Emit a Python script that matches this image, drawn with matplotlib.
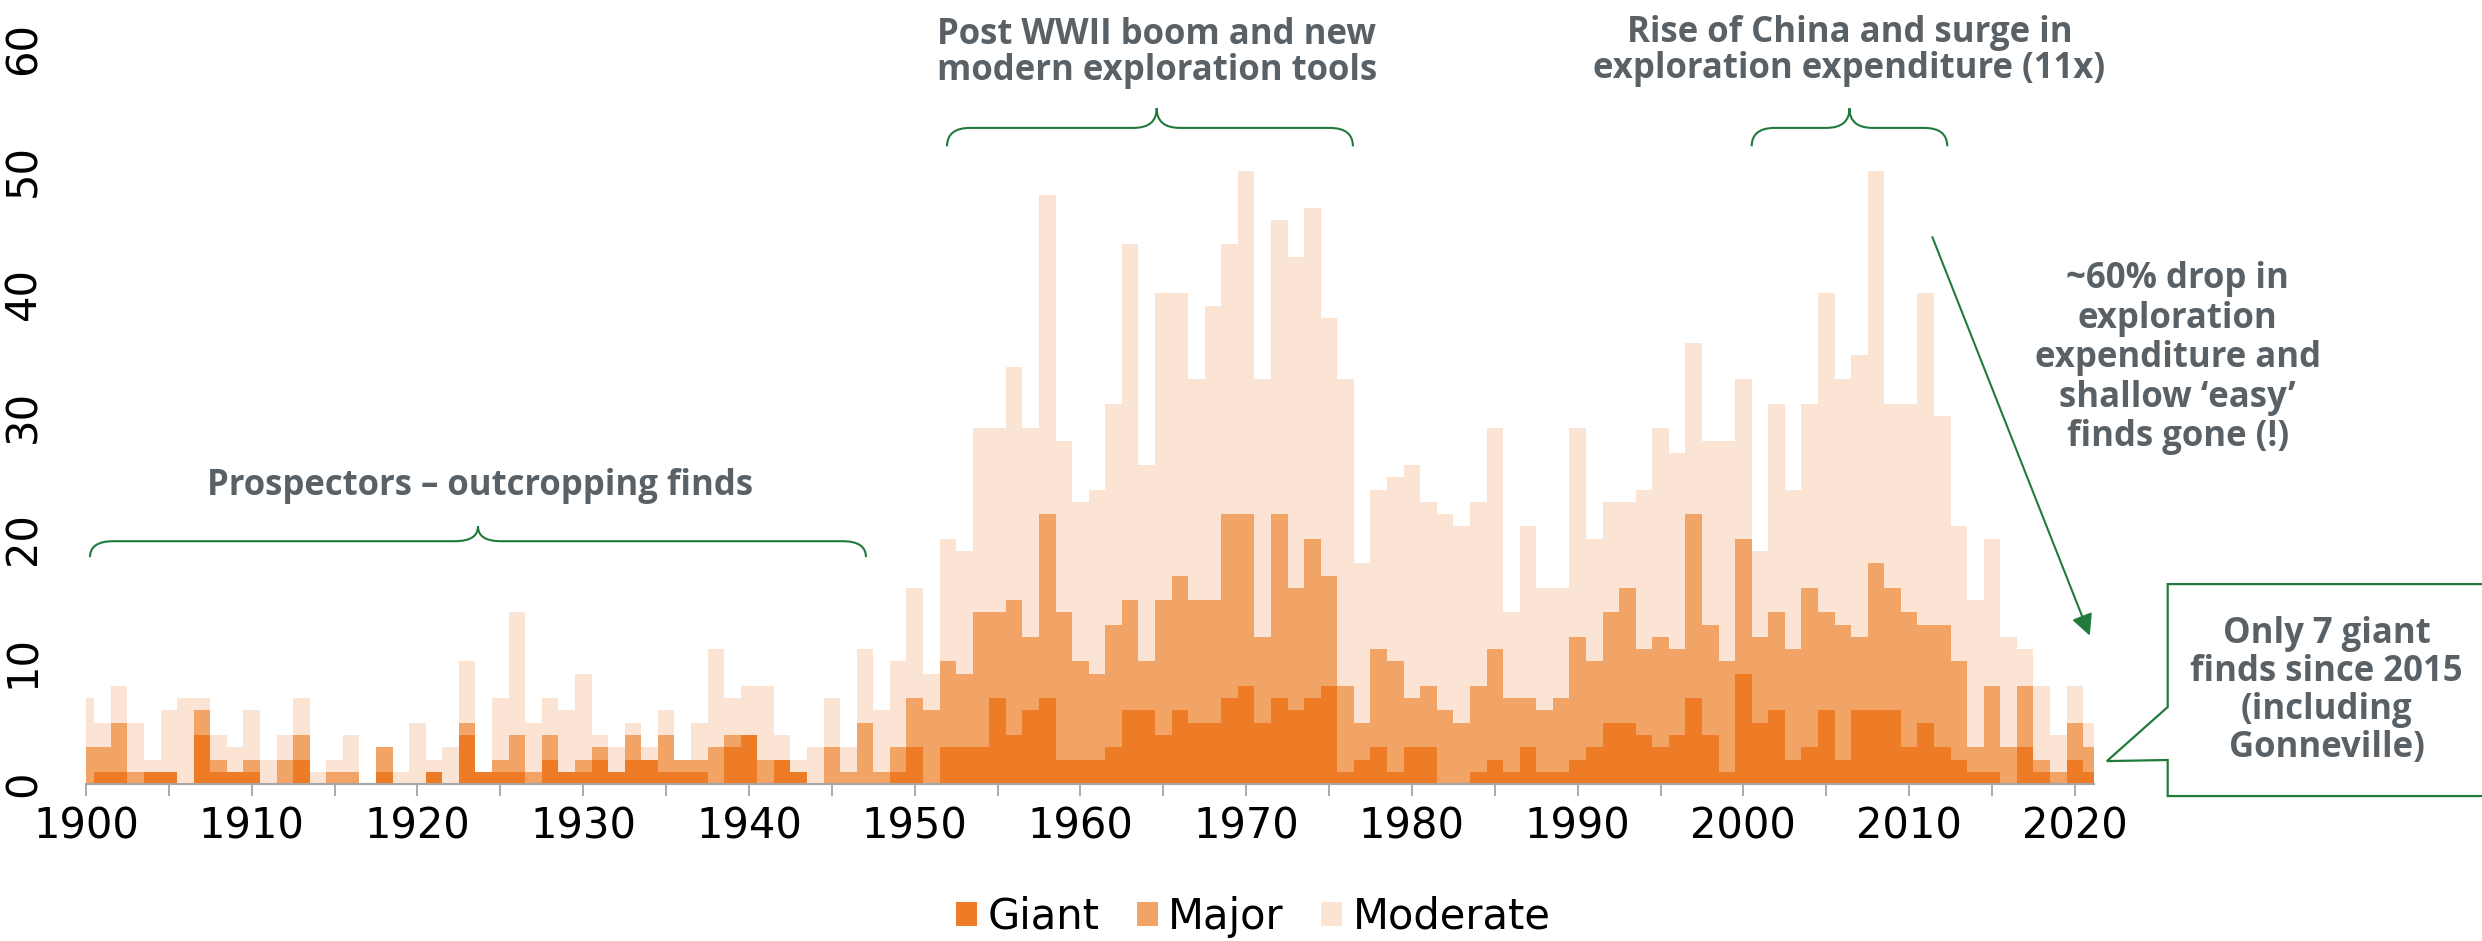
import matplotlib
matplotlib.use("Agg")
import matplotlib.pyplot as plt
from matplotlib.patches import Patch
from matplotlib.path import Path
from matplotlib.patches import PathPatch
import numpy as np

# years 1900-2021
years = list(range(1900, 2022))

giant = [0, 1, 1, 0, 1, 1, 0, 4, 1, 1,
         1, 0, 0, 2, 0, 0, 0, 0, 1, 0,
         0, 1, 0, 4, 1, 1, 1, 0, 2, 1,
         1, 2, 1, 2, 2, 1, 1, 1, 0, 3,
         4, 0, 2, 1, 0, 0, 0, 0, 0, 1,
         3, 0, 3, 3, 3, 7, 4, 6, 7, 2,
         2, 2, 3, 6, 6, 4, 6, 5, 5, 7,
         8, 5, 7, 6, 7, 8, 1, 2, 3, 1,
         3, 3, 0, 0, 1, 2, 1, 3, 1, 1,
         2, 3, 5, 5, 4, 3, 4, 7, 4, 1,
         9, 5, 6, 2, 3, 6, 2, 6, 6, 6,
         3, 5, 3, 2, 1, 1, 0, 3, 1, 0,
         2, 1]

major = [3, 2, 4, 1, 0, 0, 0, 2, 1, 0,
         1, 0, 2, 2, 0, 1, 1, 0, 2, 0,
         0, 0, 0, 1, 0, 1, 3, 1, 2, 0,
         1, 1, 0, 2, 0, 3, 1, 1, 3, 1,
         0, 2, 0, 0, 0, 3, 1, 5, 1, 2,
         4, 6, 7, 6, 11, 7, 11, 6, 15, 12,
         8, 7, 10, 9, 4, 11, 11, 10, 10, 15,
         14, 7, 15, 10, 13, 9, 7, 3, 8, 9,
         4, 5, 6, 5, 7, 9, 6, 4, 5, 6,
         10, 7, 9, 11, 7, 9, 7, 15, 9, 9,
         11, 7, 8, 9, 13, 8, 11, 6, 12, 10,
         11, 8, 10, 8, 2, 7, 3, 5, 1, 1,
         3, 2]

moderate = [4, 2, 3, 4, 1, 5, 7, 1, 2, 2,
            4, 2, 2, 3, 1, 1, 3, 0, 0, 1,
            5, 1, 3, 5, 0, 5, 10, 4, 3, 5,
            7, 1, 2, 1, 1, 2, 0, 3, 8, 3,
            4, 6, 2, 1, 3, 4, 2, 6, 5, 7,
            9, 3, 10, 10, 15, 15, 19, 17, 26, 14,
            13, 15, 18, 29, 16, 25, 23, 18, 24, 22,
            28, 21, 24, 27, 27, 21, 25, 13, 13, 15,
            19, 15, 16, 16, 15, 18, 7, 14, 10, 9,
            17, 10, 9, 7, 13, 17, 16, 14, 15, 18,
            13, 7, 17, 13, 15, 26, 20, 23, 32, 15,
            17, 27, 17, 11, 12, 12, 9, 3, 6, 3,
            3, 2]

series_names = ["Giant", "Major", "Moderate"]
colors = ["#EE7B25", "#F2A466", "#FCE4D4"]

green = "#217A3C"
txt_grey = "#5A6166"
ann_font = ["Open Sans", "DejaVu Sans"]
tick_font = ["Liberation Sans Narrow", "DejaVu Sans"]

fig = plt.figure(figsize=(24.82, 9.41), dpi=100)
ax = fig.add_axes([0.03465, 0.1668, 0.809, 0.782])

g = np.array(giant)
m = np.array(major)
d = np.array(moderate)
ax.bar(years, g, width=1.0, color=colors[0], linewidth=0)
ax.bar(years, m, width=1.0, bottom=g, color=colors[1], linewidth=0)
ax.bar(years, d, width=1.0, bottom=g + m, color=colors[2], linewidth=0)

ax.set_xlim(1900, 2021.15)
ax.set_ylim(0, 60)

for s in ["top", "right", "left"]:
    ax.spines[s].set_visible(False)
ax.spines["bottom"].set_color("#A6A6A6")
ax.spines["bottom"].set_linewidth(1.5)

xt = list(range(1900, 2021, 5))
ax.set_xticks(xt)
ax.set_xticklabels([str(t) if t % 10 == 0 else "" for t in xt],
                   fontfamily=tick_font, fontsize=30)
ax.tick_params(axis="x", color="#A6A6A6", length=8.6, width=1.3, pad=7)

ax.set_yticks(range(0, 61, 10))
ax.set_yticklabels([str(v) for v in range(0, 61, 10)], rotation=90,
                   va="center", fontfamily=tick_font, fontsize=30)
ax.tick_params(axis="y", length=0, pad=30)


def brace(x0, x1, xm, yb, yl, yt, r=1.4):
    verts = [(x0, yb), (x0, yl), (x0 + r, yl),
             (xm - r, yl), (xm, yl), (xm, yt),
             (xm, yl), (xm + r, yl),
             (x1 - r, yl), (x1, yl), (x1, yb)]
    codes = [Path.MOVETO, Path.CURVE3, Path.CURVE3,
             Path.LINETO, Path.CURVE3, Path.CURVE3,
             Path.CURVE3, Path.CURVE3,
             Path.LINETO, Path.CURVE3, Path.CURVE3]
    ax.add_patch(PathPatch(Path(verts, codes), facecolor="none",
                           edgecolor=green, lw=1.5, clip_on=False))


brace(1900.24, 1947.06, 1923.65, 18.5, 19.8, 21.0)
brace(1951.95, 1976.44, 1964.6, 52.0, 53.5, 55.1)
brace(2000.5, 2012.3, 2006.4, 52.0, 53.5, 55.1)

tkw = dict(fontfamily=ann_font, fontweight="bold", color=txt_grey,
           fontsize=25, ha="center", va="center", clip_on=False)
ax.text(1923.8, 24.3, "Prospectors \u2013 outcropping finds", **tkw)
ax.text(1964.6, 59.6, "Post WWII boom and new\nmodern exploration tools",
        linespacing=1.0, **tkw)
ax.text(2006.4, 59.8, "Rise of China and surge in\nexploration expenditure (11x)",
        linespacing=1.0, **tkw)
ax.text(2026.2, 34.7, "~60% drop in\nexploration\nexpenditure and\n"
        "shallow \u2018easy\u2019\nfinds gone (!)", linespacing=1.13, **tkw)

ax.annotate("", xy=(2020.9, 12.1), xytext=(2011.4, 44.6),
            arrowprops=dict(arrowstyle="-|>", color=green, lw=1.5,
                            mutation_scale=32, shrinkA=0, shrinkB=0),
            annotation_clip=False)

# callout box with tail
cx = [2025.6, 2025.6, 2046.0, 2046.0, 2025.6, 2025.6, 2021.93, 2025.6]
cy = [6.28, 16.3, 16.3, -0.98, -0.98, 1.96, 1.87, 6.28]
ax.fill(cx, cy, facecolor="white", edgecolor=green, lw=1.6, clip_on=False,
        zorder=3)
ax.text(2035.2, 7.6, "Only 7 giant\nfinds since 2015\n(including\nGonneville)",
        linespacing=1.08, zorder=4, **tkw)

handles = [Patch(facecolor=c, edgecolor="none", label=n)
           for c, n in zip(colors, series_names)]
fig.legend(handles=handles, loc="center", bbox_to_anchor=(0.505, 0.026),
           ncol=3, frameon=False, handlelength=0.5, handleheight=0.5,
           handletextpad=0.25, columnspacing=0.9,
           prop={"family": tick_font, "size": 30})

fig.savefig("out.png", dpi=100)
